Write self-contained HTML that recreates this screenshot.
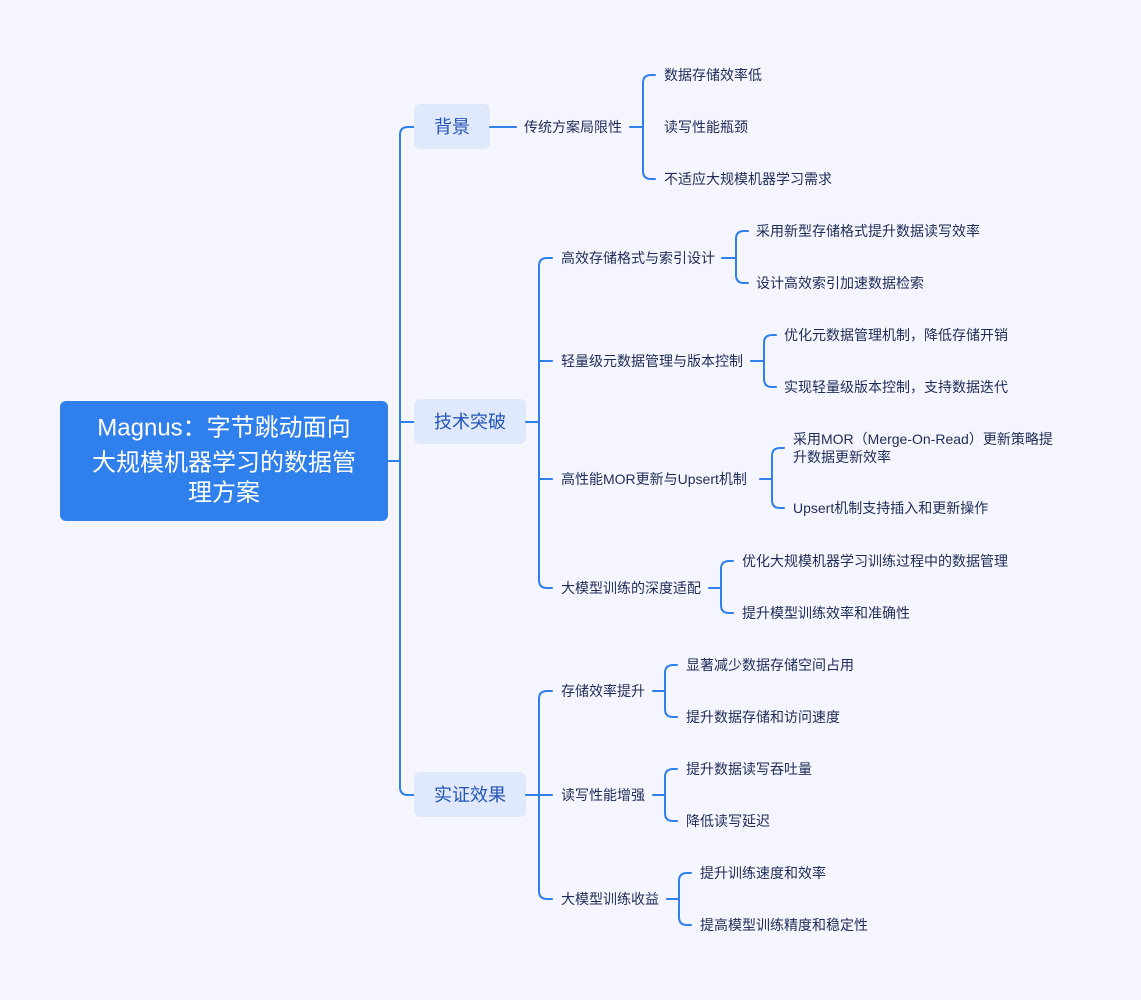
<!DOCTYPE html>
<html><head><meta charset="utf-8"><style>
html,body{margin:0;padding:0;background:#f5f6fd;}
svg{display:block}
text{font-family:"Liberation Sans","Noto Sans CJK SC",sans-serif;fill:#1f2b58;font-size:14px;dominant-baseline:central}
.l1{font-size:18px;fill:#2455b8;text-anchor:middle}
.root{font-size:24px;fill:#fff;text-anchor:middle}
path{fill:none;stroke:#2f7fec;stroke-width:2;stroke-linecap:round}
</style></head><body>
<svg width="1141" height="1000" viewBox="0 0 1141 1000">
<rect x="0" y="0" width="1141" height="1000" fill="#f5f6fd"/>
<!-- root -->
<rect x="60" y="401" width="328" height="120" rx="6" fill="#2f80ed"/>
<text class="root" x="224" y="428">Magnus：字节跳动面向</text>
<text class="root" x="224" y="463">大规模机器学习的数据管</text>
<text class="root" x="224" y="493">理方案</text>
<!-- main trunk -->
<path d="M388 461 H400 M414 127 H408 Q400 127 400 135 V787 Q400 795 408 795 H414 M400 422 H414"/>
<!-- level1 boxes -->
<rect x="414" y="104" width="76" height="45" rx="6" fill="#e0e9fb"/>
<text class="l1" x="452" y="127">背景</text>
<rect x="414" y="399" width="112" height="45" rx="6" fill="#e0e9fb"/>
<text class="l1" x="470" y="422">技术突破</text>
<rect x="414" y="772" width="112" height="45" rx="6" fill="#e0e9fb"/>
<text class="l1" x="470" y="795">实证效果</text>
<!-- 背景 -->
<path d="M490 127 H516"/>
<text x="524" y="127">传统方案局限性</text>
<path d="M630 127 H643 M655 75 H651 Q643 75 643 83 V171 Q643 179 651 179 H655"/>
<text x="664" y="75">数据存储效率低</text>
<text x="664" y="127">读写性能瓶颈</text>
<text x="664" y="179">不适应大规模机器学习需求</text>
<!-- 技术突破 -->
<path d="M526 422 H539 M552 258 H547 Q539 258 539 266 V580 Q539 588 547 588 H552 M539 361 H552 M539 479 H552"/>
<text x="561" y="258">高效存储格式与索引设计</text>
<text x="561" y="361">轻量级元数据管理与版本控制</text>
<text x="561" y="479">高性能MOR更新与Upsert机制</text>
<text x="561" y="588">大模型训练的深度适配</text>
<path d="M722 258 H736 M748 231 H744 Q736 231 736 239 V275 Q736 283 744 283 H748"/>
<text x="756" y="231">采用新型存储格式提升数据读写效率</text>
<text x="756" y="283">设计高效索引加速数据检索</text>
<path d="M751 361 H764 M776 335 H772 Q764 335 764 343 V379 Q764 387 772 387 H776"/>
<text x="784" y="335">优化元数据管理机制，降低存储开销</text>
<text x="784" y="387">实现轻量级版本控制，支持数据迭代</text>
<path d="M760 479 H772 M784 448 H780 Q772 448 772 456 V500 Q772 508 780 508 H784"/>
<text x="793" y="439">采用MOR（Merge-On-Read）更新策略提</text>
<text x="793" y="457">升数据更新效率</text>
<text x="793" y="508">Upsert机制支持插入和更新操作</text>
<path d="M709 588 H721 M733 561 H729 Q721 561 721 569 V605 Q721 613 729 613 H733"/>
<text x="742" y="561">优化大规模机器学习训练过程中的数据管理</text>
<text x="742" y="613">提升模型训练效率和准确性</text>
<!-- 实证效果 -->
<path d="M526 795 H539 M552 691 H547 Q539 691 539 699 V891 Q539 899 547 899 H552 M539 795 H552"/>
<text x="561" y="691">存储效率提升</text>
<text x="561" y="795">读写性能增强</text>
<text x="561" y="899">大模型训练收益</text>
<path d="M653 691 H665 M677 665 H673 Q665 665 665 673 V709 Q665 717 673 717 H677"/>
<text x="686" y="665">显著减少数据存储空间占用</text>
<text x="686" y="717">提升数据存储和访问速度</text>
<path d="M653 795 H665 M677 769 H673 Q665 769 665 777 V813 Q665 821 673 821 H677"/>
<text x="686" y="769">提升数据读写吞吐量</text>
<text x="686" y="821">降低读写延迟</text>
<path d="M667 899 H679 M691 873 H687 Q679 873 679 881 V917 Q679 925 687 925 H691"/>
<text x="700" y="873">提升训练速度和效率</text>
<text x="700" y="925">提高模型训练精度和稳定性</text>
</svg>
</body></html>
